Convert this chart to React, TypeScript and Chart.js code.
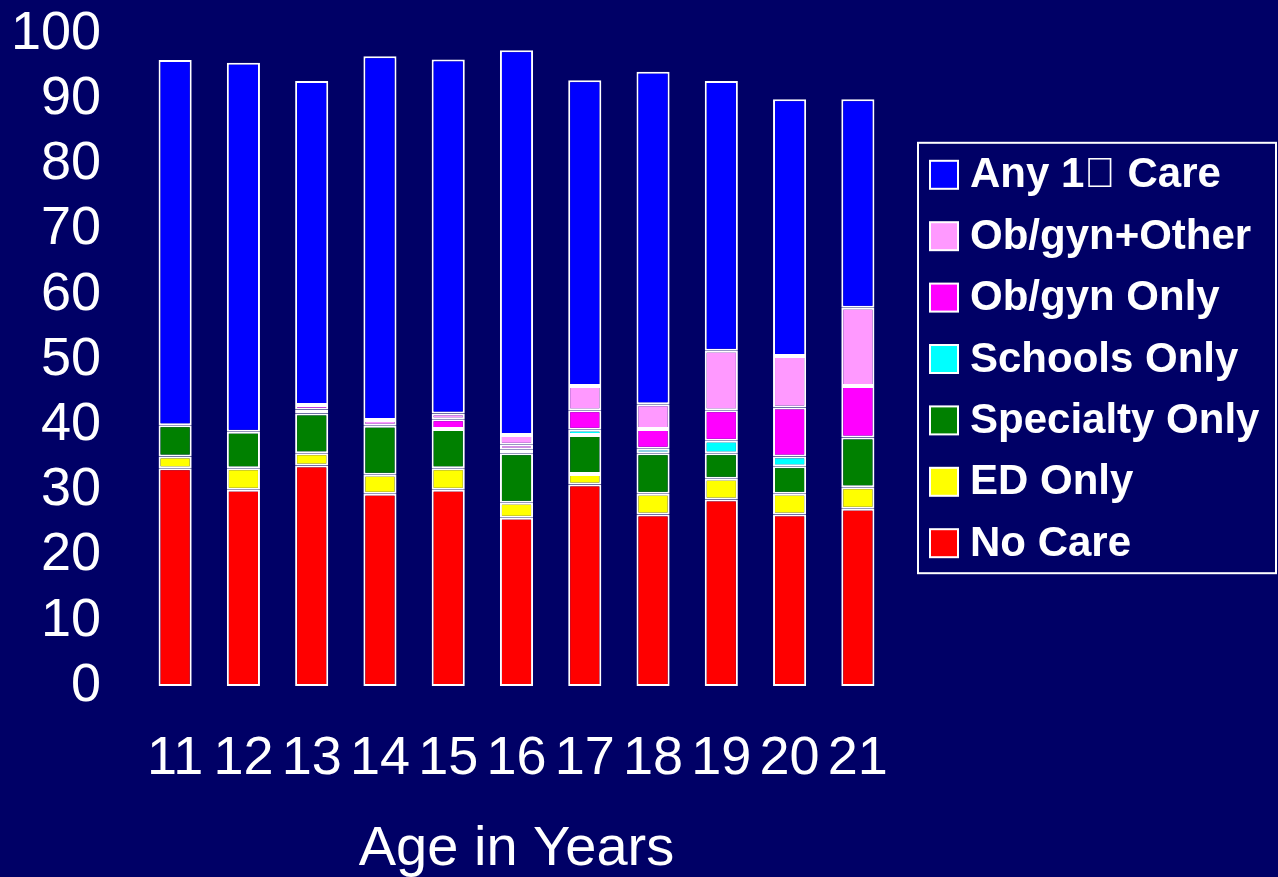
import React, { useEffect, useRef } from "react";
import { Chart, registerables } from "chart.js";

Chart.register(...registerables);

const ages = ["11", "12", "13", "14", "15", "16", "17", "18", "19", "20", "21"];
const yTicks = [0, 10, 20, 30, 40, 50, 60, 70, 80, 90, 100];

const noCare = [33.4, 30.1, 33.8, 29.5, 30.1, 25.8, 30.9, 26.3, 28.6, 26.3, 27.2];
const edOnly = [1.8, 3.3, 1.9, 2.9, 3.3, 2.3, 1.6, 3.2, 3.2, 3.2, 3.3];
const specialtyOnly = [4.8, 5.6, 6.1, 7.5, 6.0, 7.6, 6.0, 6.2, 3.9, 4.2, 7.6];
const schoolsOnly = [null, null, 0.6, null, null, 0.6, 0.8, 0.7, 1.9, 1.5, null];
const obgynOnly = [null, null, 0.7, null, 1.5, 0.7, 3.0, 3.0, 4.7, 7.5, 7.9];
const obgynOther = [null, null, null, 0.9, 0.9, 1.5, 3.7, 3.8, 9.1, 7.9, 12.0];
const anyPrimary = [56.0, 56.6, 49.7, 55.8, 54.3, 59.0, 46.9, 51.0, 41.4, 39.4, 32.0];

const seriesNames = [
  "No Care",
  "ED Only",
  "Specialty Only",
  "Schools Only",
  "Ob/gyn Only",
  "Ob/gyn+Other",
  "Any 1\uF0B0 Care",
];
const seriesValues = [noCare, edOnly, specialtyOnly, schoolsOnly, obgynOnly, obgynOther, anyPrimary];
const seriesColors = ["#FF0000", "#FFFF00", "#008000", "#00FFFF", "#FF00FF", "#FF99FF", "#0000FF"];

const BG = "#000066";
const FONT = "'Liberation Sans', Arial, Helvetica, sans-serif";

const boxLegend = {
  id: "boxLegend",
  afterDraw(chart: any) {
    const { ctx, chartArea } = chart;
    const x0 = chartArea.right + 26;
    const x1 = chart.width - 2;
    const mid = (chartArea.top + chartArea.bottom) / 2 - 1;
    const rowH = 61.4;
    const n = chart.data.datasets.length;
    const firstRow = mid - ((n - 1) / 2) * rowH;
    ctx.save();
    ctx.strokeStyle = "#FFFFFF";
    ctx.lineWidth = 2;
    ctx.strokeRect(x0, firstRow - 32, x1 - x0, (n - 1) * rowH + 62);
    ctx.font = `bold 42px ${FONT}`;
    ctx.textBaseline = "middle";
    ctx.textAlign = "left";
    for (let i = 0; i < n; i++) {
      const ds = chart.data.datasets[n - 1 - i];
      const y = firstRow + i * rowH;
      ctx.fillStyle = ds.backgroundColor;
      ctx.fillRect(x0 + 12, y - 14, 28, 28);
      ctx.strokeStyle = "#FFFFFF";
      ctx.lineWidth = 2;
      ctx.strokeRect(x0 + 12, y - 14, 28, 28);
      ctx.fillStyle = "#FFFFFF";
      ctx.fillText(ds.label, x0 + 52, y + 1);
    }
    ctx.restore();
  },
};

export default function App() {
  const ref = useRef<HTMLCanvasElement>(null);
  useEffect(() => {
    document.body.style.margin = "0";
    document.body.style.background = BG;
    const chart = new Chart(ref.current!, {
      type: "bar",
      data: {
        labels: ages,
        datasets: seriesNames.map((name, i) => ({
          label: name,
          data: seriesValues[i],
          backgroundColor: seriesColors[i],
          borderColor: "#FFFFFF",
          borderWidth: 2,
          borderSkipped: false,
          barPercentage: 0.485,
          categoryPercentage: 1,
        })),
      },
      options: {
        animation: false,
        responsive: true,
        maintainAspectRatio: false,
        layout: { padding: { top: 0, right: 386, left: 0, bottom: 0 } },
        plugins: {
          legend: { display: false },
          tooltip: { enabled: false },
        },
        scales: {
          x: {
            stacked: true,
            grid: { display: false, drawTicks: false },
            border: { display: false },
            afterFit: (axis: any) => {
              axis.height = 191;
            },
            ticks: { color: "#FFFFFF", font: { family: FONT, size: 54 }, padding: 41, maxRotation: 0, autoSkip: false },
            title: {
              display: true,
              text: "Age in Years",
              color: "#FFFFFF",
              font: { family: FONT, size: 56 },
              padding: { top: 0, bottom: -6 },
            },
          },
          y: {
            stacked: true,
            min: 0,
            max: 100,
            afterBuildTicks: (axis: any) => {
              axis.ticks = yTicks.map((v) => ({ value: v }));
            },
            afterFit: (axis: any) => {
              axis.width = 141;
              axis.paddingTop = 34;
              axis.paddingBottom = 0;
            },
            grid: { display: false, drawTicks: false },
            border: { display: false },
            ticks: { color: "#FFFFFF", font: { family: FONT, size: 54 }, padding: 40, autoSkip: false },
          },
        },
      },
      plugins: [boxLegend],
    });
    return () => chart.destroy();
  }, []);
  return (
    <div style={{ position: "absolute", left: 0, top: 0, width: 1278, height: 877, background: BG }}>
      <canvas ref={ref} />
    </div>
  );
}
